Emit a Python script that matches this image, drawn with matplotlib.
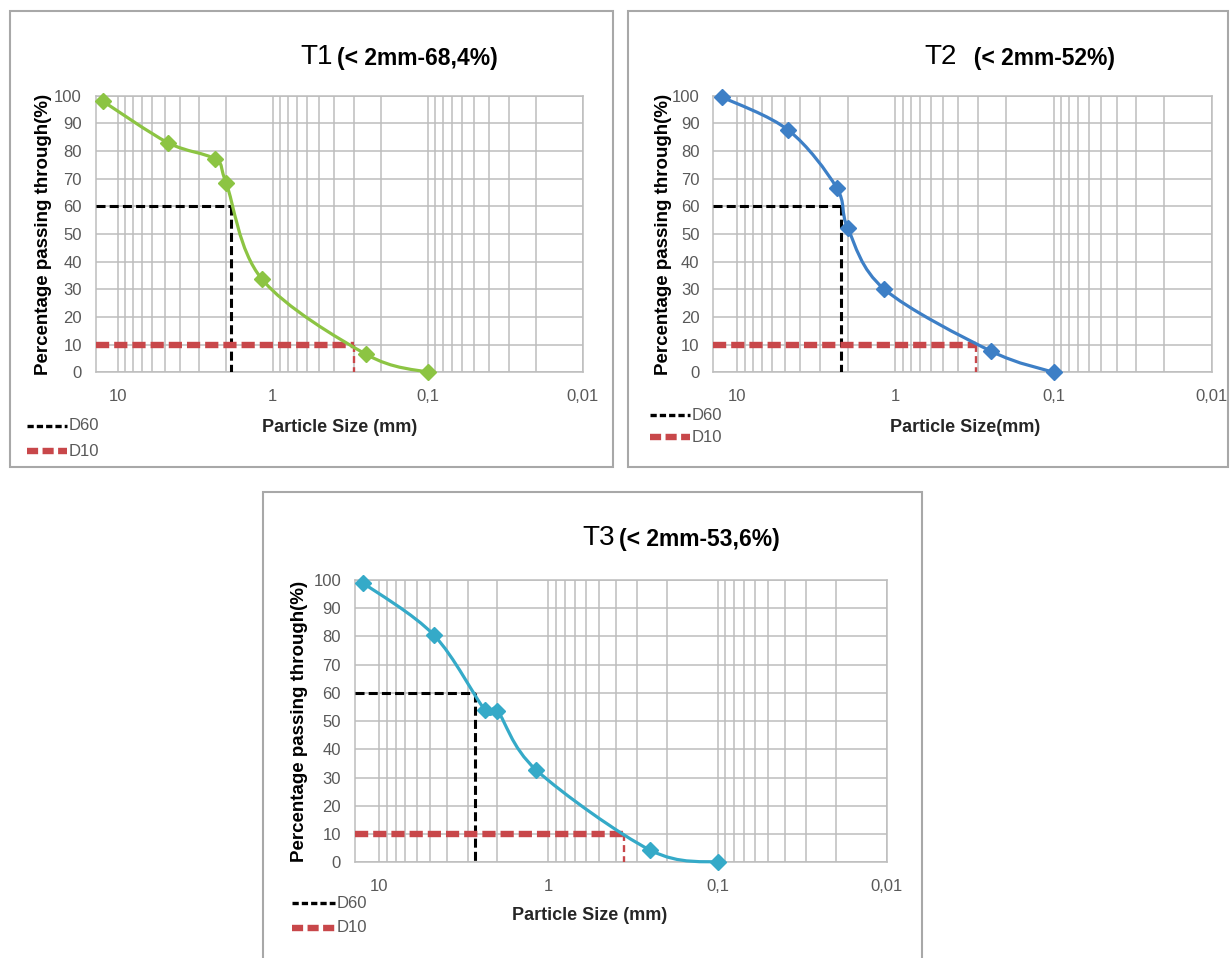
import matplotlib
matplotlib.use('Agg')
import matplotlib.pyplot as plt
import numpy as np
from matplotlib.path import Path
from matplotlib.patches import PathPatch, Rectangle
from matplotlib.lines import Line2D
from matplotlib.ticker import LogLocator, FixedLocator, NullFormatter

plt.rcParams['lines.scale_dashes'] = False
NARROW = ['Liberation Sans Narrow', 'Liberation Sans', 'DejaVu Sans']
WIDE = ['Liberation Sans', 'DejaVu Sans']

# sieve sizes (mm) and percentage passing
sizes = [12.5, 4.75, 2.36, 2.0, 1.18, 0.25, 0.1]
t1_pass = [98, 83, 77, 68.4, 33.8, 6.5, 0]
t2_pass = [99.5, 87.5, 66.8, 52, 30.1, 7.7, 0]
t3_pass = [99, 80.5, 53.8, 53.6, 32.7, 4.3, 0]

d60_size = [1.87, 2.2, 2.7]
d10_size = [0.30, 0.31, 0.355]
d60_level = 60
d10_level = 10

titles = ['T1', 'T2', 'T3']
subtitles = ['(< 2mm-68,4%)', '  (< 2mm-52%)', '(< 2mm-53,6%)']
xlabels = ['Particle Size (mm)', 'Particle Size(mm)', 'Particle Size (mm)']
colors = ['#8CC443', '#3D7FC6', '#35AAC8']
x_ticks = [10, 1, 0.1, 0.01]
x_ticklabels = ['10', '1', '0,1', '0,01']
y_ticks = list(range(0, 101, 10))

W, H = 1231, 958
GRID = '#BDBDBD'
RED = '#C8474A'
TICK = '#595959'


def fx(px):
    return px / W


def fy(py):
    return 1 - py / H


def smooth_path(xs, ys):
    """Excel-like smoothed line: cubic Bezier segments in log-x space."""
    pts = np.column_stack([np.log10(xs), ys])
    n = len(pts)
    verts = [pts[0]]
    codes = [Path.MOVETO]
    for i in range(n - 1):
        p0 = pts[max(i - 1, 0)]
        p1 = pts[i]
        p2 = pts[i + 1]
        p3 = pts[min(i + 2, n - 1)]
        verts += [p1 + (p2 - p0) / 6, p2 - (p3 - p1) / 6, p2]
        codes += [Path.CURVE4] * 3
    verts = np.array(verts)
    verts[:, 0] = 10 ** verts[:, 0]
    return Path(verts, codes)


fig = plt.figure(figsize=(W / 100, H / 100), dpi=100)

# panel frames (pixel boxes)
frames = [(10, 11, 613, 467), (628, 11, 1228, 467), (263, 492, 922, 960)]
for x0, y0, x1, y1 in frames:
    fig.add_artist(Rectangle((fx(x0), fy(y1)), fx(x1) - fx(x0), fy(y0) - fy(y1),
                             transform=fig.transFigure, fill=False,
                             ec='#A8A8A8', lw=1.5))

# axes boxes in pixels: left, top, right, bottom
ax_boxes = [(95.7, 95.7, 582.7, 372.3), (713.3, 95.7, 1211.7, 372.3),
            (355, 580, 886.7, 862.3)]
xlims = [(13.9, 0.01), (14.2, 0.0105), (13.9, 0.0104)]
ylabel_x = [-0.09, -0.083, -0.088]
passes = [t1_pass, t2_pass, t3_pass]
title_pos = [(300, 64), (924, 64), (582, 545)]
xlabel_pos = [(340, 428), (965, 428), (590, 915)]
legend_pos = [(27, 67, 426, 451), (650, 690, 415, 437), (292, 335, 903, 928)]

for i in range(3):
    l, t, r, b = ax_boxes[i]
    ax = fig.add_axes([fx(l), fy(b), fx(r) - fx(l), fy(t) - fy(b)])
    ax.set_xscale('log')
    ax.set_xlim(*xlims[i])
    ax.set_ylim(0, 100)
    ax.xaxis.set_major_locator(FixedLocator(x_ticks))
    ax.set_xticks(x_ticks)
    ax.set_xticklabels(x_ticklabels)
    ax.xaxis.set_minor_locator(LogLocator(base=10, subs=np.arange(2, 10)))
    ax.xaxis.set_minor_formatter(NullFormatter())
    ax.set_yticks(y_ticks)
    ax.grid(True, which='both', color=GRID, lw=1.1)
    ax.set_axisbelow(True)
    for s in ax.spines.values():
        s.set_color(GRID)
        s.set_linewidth(1.1)
    ax.tick_params(which='both', length=0)
    ax.tick_params(axis='x', pad=12, labelsize=12, labelcolor=TICK)
    ax.tick_params(axis='y', pad=10, labelsize=12, labelcolor=TICK)
    for lab in ax.get_xticklabels() + ax.get_yticklabels():
        lab.set_family(NARROW)

    # grading curve
    ax.add_patch(PathPatch(smooth_path(sizes, passes[i]), fill=False,
                           ec=colors[i], lw=2.3, zorder=4, clip_on=False))
    ax.plot(sizes, passes[i], 'D', ms=8, color=colors[i], zorder=5,
            clip_on=False)

    # D60 / D10 guide lines
    x0 = xlims[i][0]
    ax.plot([x0, d60_size[i]], [d60_level, d60_level], color='black',
            lw=2.2, ls=(0, (6.5, 3.0)), zorder=3)
    ax.plot([d60_size[i], d60_size[i]], [d60_level, 0], color='black',
            lw=2.2, ls=(0, (6.5, 3.0)), zorder=3)
    ax.plot([x0, d10_size[i]], [d10_level, d10_level], color=RED,
            lw=4.6, ls=(0, (9.5, 3.6)), zorder=3)
    ax.plot([d10_size[i], d10_size[i]], [d10_level, 0], color=RED,
            lw=1.7, ls=(0, (5, 3)), zorder=3)

    ax.set_ylabel('Percentage passing through(%)', family=WIDE,
                  fontweight='bold', fontsize=13.5)
    ax.yaxis.set_label_coords(ylabel_x[i], 0.5)

    # title: "Tn" then the bold part
    tx, ty = title_pos[i]
    t1 = fig.text(fx(tx), fy(ty), titles[i], family=NARROW, fontsize=20,
                  ha='left', va='baseline')
    ax.annotate(subtitles[i], xy=(1, 0), xycoords=t1,
                xytext=(3, 0), textcoords='offset points',
                family=NARROW, fontsize=16.5, fontweight='bold',
                ha='left', va='bottom', annotation_clip=False)

    lx, ly = xlabel_pos[i]
    fig.text(fx(lx), fy(ly), xlabels[i], family=NARROW, fontsize=13,
             fontweight='bold', ha='center', va='center', color='#262626')

    # legend entries
    a, c, yd60, yd10 = legend_pos[i]
    fig.add_artist(Line2D([fx(a), fx(c)], [fy(yd60), fy(yd60)], color='black',
                          lw=2.4, ls=(0, (4.5, 2.2)),
                          transform=fig.transFigure))
    fig.add_artist(Line2D([fx(a), fx(c)], [fy(yd10), fy(yd10)], color=RED,
                          lw=4.6, ls=(0, (8, 3.2)),
                          transform=fig.transFigure))
    fig.text(fx(c + 2), fy(yd60), 'D60', family=NARROW, fontsize=12,
             color=TICK, ha='left', va='center')
    fig.text(fx(c + 2), fy(yd10), 'D10', family=NARROW, fontsize=12,
             color=TICK, ha='left', va='center')

fig.savefig('out.png', dpi=100)
plt.close(fig)
